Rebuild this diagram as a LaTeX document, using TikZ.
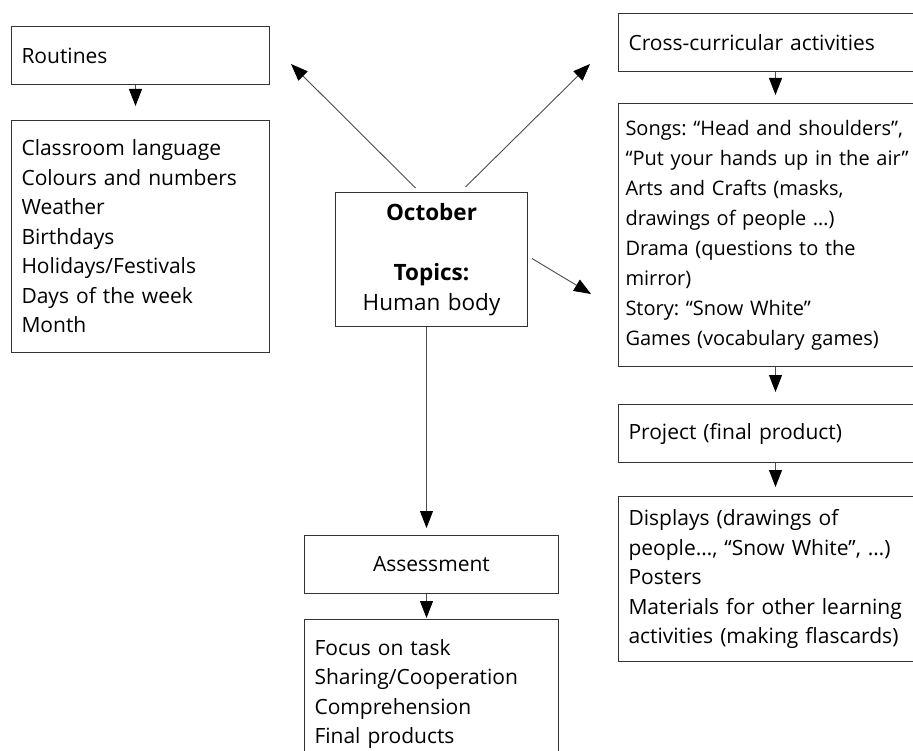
\documentclass[tikz,border=0pt]{standalone}
\usepackage{fontspec}
\setmainfont{Open Sans}
\usepackage{tikz}
\usetikzlibrary{arrows.meta}
\usetikzlibrary{positioning}

\tikzset{
  heading/.style={draw=black!80, line width=1pt, rectangle, align=left, inner xsep=10pt, minimum height=58pt},
  link/.style={->, draw=black!70, line width=0.9pt},
}

\begin{document}
\frenchspacing
\begin{tikzpicture}[x=1pt, y=-1pt, node distance=35pt,
  >={Triangle[length=17pt,width=13pt,color=black]},
  font=\fontsize{21}{29.5}\selectfont]
  \fill[white] (0,0) rectangle (913,751);
  \useasboundingbox (0,0) rectangle (913,751);
  \clip (0,0) rectangle (913,751);

  % left column
  \node[heading, text width=238pt, anchor=north west] (routines) at (11,26) {Routines};
  \node[heading, text width=238pt, minimum height=232pt] (routinelist) [below=of routines]
    {Classroom language\\ Colours and numbers\\ Weather\\ Birthdays\\ Holidays/Festivals\\ Days of the week\\ Month};

  % centre
  \node[heading, text width=172pt, minimum height=134pt, align=center, anchor=north west,
    font=\fontsize{22.5}{30}\selectfont] (october) at (335,192)
    {\textbf{October}\\[30pt] \textbf{Topics:}\\ Human body};
  \node[heading, text width=234pt, align=center, anchor=north west] (assess) at (304,535) {Assessment};
  \node[heading, text width=234pt, inner ysep=20pt, minimum height=0pt] (assesslist) [below=25pt of assess]
    {Focus on task\\ Sharing/Cooperation\\ Comprehension\\ Final products};

  % right column, runs past the right edge
  \node[heading, text width=304pt, anchor=north west] (cross) at (618,13) {Cross-curricular activities};
  \node[heading, text width=310pt, inner xsep=7pt, minimum height=263pt, font=\fontsize{20}{30}\selectfont] (songs) [below=31pt of cross]
    {Songs: “Head and shoulders”,\\ “Put your hands up in the air”\\ Arts and Crafts (masks,\\ drawings of people …)\\
     Drama (questions to the\\ mirror)\\ Story: “Snow White”\\ Games (vocabulary games)};
  \node[heading, text width=304pt] (project) [below=37pt of songs] {Project (final product)};
  \node[heading, text width=304pt, minimum height=165pt] (displays) [below=33pt of project]
    {Displays (drawings of\\ people…, “Snow White”, …)\\ Posters\\ Materials for other learning\\ activities (making flascards)};

  \coordinate (toroutines) at (291,64);
  \coordinate (tocross) at (590,64);
  \coordinate (tosongs) at (591,294);

  \draw[link] ([xshift=-16pt,yshift=4pt]october.north) -- (toroutines);
  \draw[link] ([xshift=34pt,yshift=5pt]october.north) -- (tocross);
  \draw[link] ([xshift=4pt,yshift=1pt]october.east) -- (tosongs);
  \draw[link, shorten >=7pt] ([xshift=-5pt]october.south) -- ([xshift=-5pt]assess.north);

  \draw[link, shorten >=14pt] ([xshift=-5pt]routines.south) -- ([xshift=-5pt]routinelist.north);
  \draw[link, shorten >=8pt] ([xshift=-5pt]cross.south) -- ([xshift=-5pt]songs.north);
  \draw[link, shorten >=12pt] ([xshift=-5pt]songs.south) -- ([xshift=-5pt]project.north);
  \draw[link, shorten >=9pt] ([xshift=-5pt]project.south) -- ([xshift=-5pt]displays.north);
  \draw[link, shorten >=1pt] ([xshift=-5pt]assess.south) -- ([xshift=-5pt]assesslist.north);
\end{tikzpicture}
\end{document}
